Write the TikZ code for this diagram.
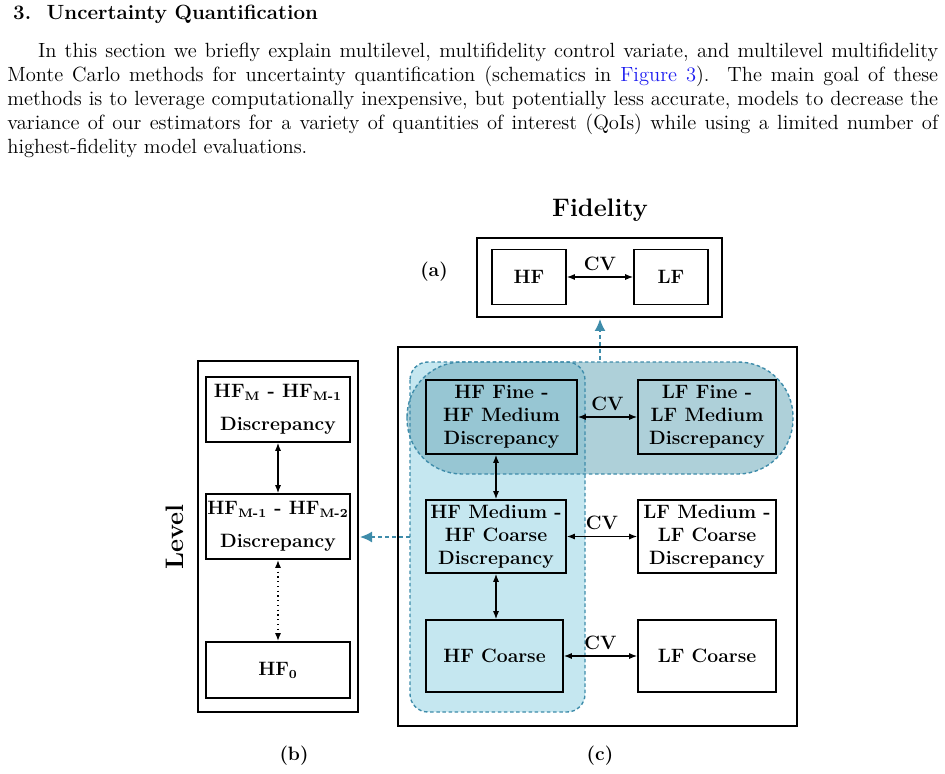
\documentclass[tikz,border=0pt]{standalone}
\usepackage{tikz}
\usetikzlibrary{calc,arrows.meta,positioning}
\definecolor{dashteal}{RGB}{062,140,170}
\definecolor{blobh}{RGB}{120,176,192}
\definecolor{blobv}{RGB}{150,212,228}
\definecolor{linkblue}{RGB}{30,30,240}
\newcommand{\sbf}[1]{$_{\mbox{\scriptsize\bfseries #1}}$}
\tikzset{
  blk/.style      = {draw=black, line width=0.9pt, align=center, font=\fontsize{11}{13}\selectfont\bfseries, inner sep=0pt},
  frame/.style    = {draw=black, line width=0.9pt},
  link/.style     = {{Latex[length=1.6mm,width=1.2mm]}-{Latex[length=1.6mm,width=1.2mm]}, line width=0.7pt},
  pointer/.style  = {-{Latex[length=2.4mm,width=2.2mm]}, dashteal, line width=0.9pt, dash pattern=on 2pt off 2pt},
  blob/.style     = {draw=dashteal, line width=0.8pt, dash pattern=on 2pt off 1.5pt},
  tag/.style      = {font=\fontsize{11}{13}\selectfont\bfseries}
}
\begin{document}
\begin{tikzpicture}[x=0.02cm, y=-0.02cm]
    \useasboundingbox (0,0) rectangle (945,773);
    % Section text
    \node[anchor=west, font=\fontsize{11.7}{13.6}\selectfont\bfseries] (sec) at (7,14) {3.\ \ Uncertainty Quantification};
    \node[anchor=north west, text width=18.62cm, inner sep=0pt, align=justify,
          font=\fontsize{11.7}{13.6}\selectfont] (para) at (7,43)
      {\hspace*{1.5em}In this section we briefly explain multilevel, multifidelity control variate, and multilevel multifidelity Monte Carlo methods for uncertainty quantification (schematics in \textcolor{linkblue}{Figure 3}).\ \ The main goal of these methods is to leverage computationally inexpensive, but potentially less accurate, models to decrease the variance of our estimators for a variety of quantities of interest (QoIs) while using a limited number of highest-fidelity model evaluations.};

    % Blobs in (c)
    \fill[blobv, opacity=0.55, rounded corners=0.36cm] (410,362) rectangle (585,712);
    \fill[blobh, opacity=0.6, rounded corners=1.1cm] (407,362) rectangle (793,474);
    \draw[blob, rounded corners=0.36cm] (410,362) rectangle (585,712);
    \draw[blob, rounded corners=1.1cm] (407,362) rectangle (793,474);

    % (a) fidelity
    \node[font=\Large\bfseries] (fid) at (600,210) {Fidelity};
    \draw[frame] (477,238) rectangle (722,317);
    \coordinate (abot) at (600,319);
    \node[tag] (la) at (434,272) {(a)};
    \node[blk, minimum width=74*0.02cm, minimum height=55*0.02cm] (hf) at (529,277) {HF};
    \node[blk, minimum width=74*0.02cm, minimum height=55*0.02cm] (lf) at (671,277) {LF};
    \draw[link] (hf) -- node[above, tag] {CV} (lf);

    % (c) multilevel multifidelity
    \draw[frame] (398,347) rectangle (797,726);
    \coordinate (ctop) at (600,360);
    \draw[pointer] (ctop) -- (abot);
    \node[blk, minimum width=151*0.02cm, minimum height=74*0.02cm] (hffine) at (501.5,417) {HF Fine -\\HF Medium\\Discrepancy};
    \node[blk, minimum width=138*0.02cm, minimum height=74*0.02cm] (lffine) at (707,417) {LF Fine -\\LF Medium\\Discrepancy};
    \node[blk, minimum width=140*0.02cm, minimum height=73*0.02cm] (hfmed) at (496,536.5) {HF Medium -\\HF Coarse\\Discrepancy};
    \node[blk, minimum width=138*0.02cm, minimum height=73*0.02cm] (lfmed) at (707,536.5) {LF Medium -\\LF Coarse\\Discrepancy};
    \node[blk, minimum width=137*0.02cm, minimum height=72*0.02cm] (hfcoarse) at (494.5,656) {HF Coarse};
    \node[blk, minimum width=138*0.02cm, minimum height=72*0.02cm] (lfcoarse) at (707,656) {LF Coarse};
    \draw[link] (hffine) -- node[above, tag] {CV} (lffine);
    \draw[link] (hfmed) -- node[above, tag] {CV} (lfmed);
    \draw[link] (hfcoarse) -- node[above, tag] {CV} (lfcoarse);
    \draw[link] (hffine.south -| hfmed) -- (hfmed);
    \draw[link] (hfmed) -- (hfmed |- hfcoarse.north);
    \node[tag] (lc) at (600,756) {(c)};

    % (b) multilevel
    \draw[frame] (198,361) rectangle (358,712);
    \node[font=\Large\bfseries, rotate=90] (lvl) at (175,537) {Level};
    \node[blk, minimum width=144*0.02cm, minimum height=65*0.02cm] (dM) at (278,409.5) {HF\sbf{M} - HF\sbf{M-1}\\[6pt]Discrepancy};
    \node[blk, minimum width=144*0.02cm, minimum height=65*0.02cm] (dM1) at (278,526.5) {HF\sbf{M-1} - HF\sbf{M-2}\\[6pt]Discrepancy};
    \node[blk, minimum width=144*0.02cm, minimum height=56*0.02cm] (d0) at (278,670) {HF\sbf{0}};
    \draw[link] (dM) -- (dM1);
    \draw[link, dotted, line width=1pt] (dM1) -- (d0);
    \coordinate (cleft) at (410,537);
    \coordinate (bright) at (360,537);
    \draw[pointer] (cleft) -- (bright);
    \node[tag] (lb) at (294,756) {(b)};
\end{tikzpicture}
\end{document}
